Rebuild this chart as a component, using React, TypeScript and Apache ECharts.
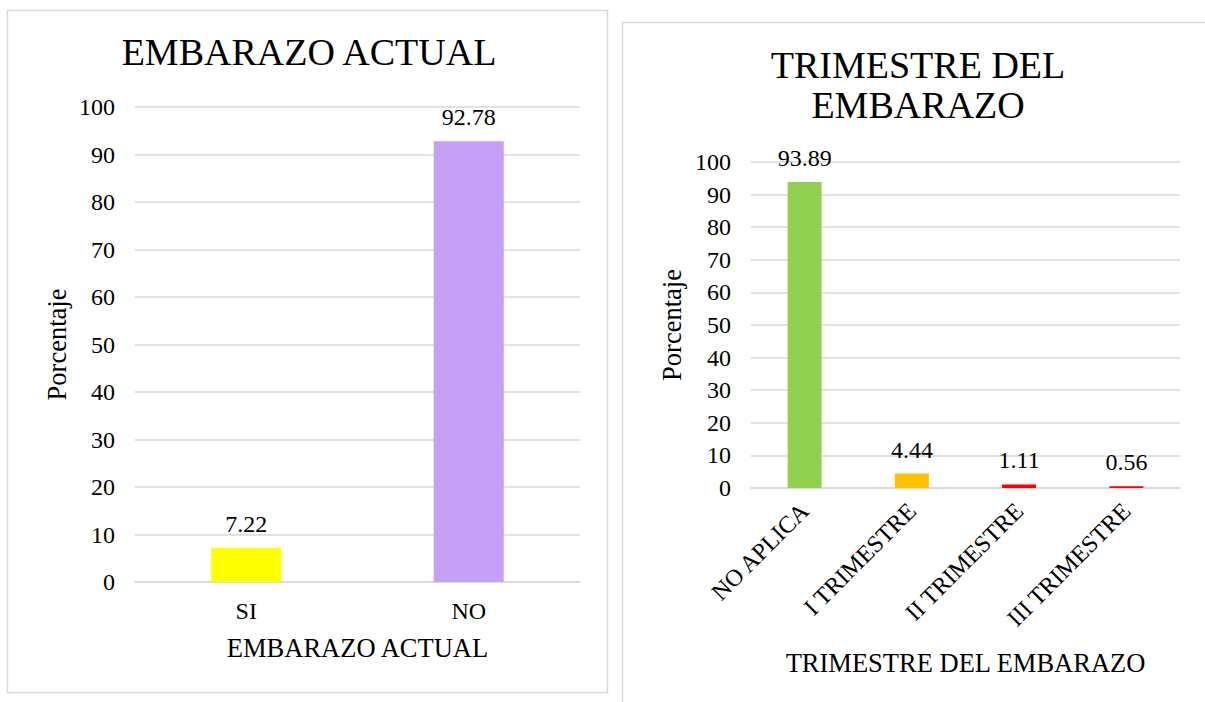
import React, { useEffect, useRef } from "react";
import * as echarts from "echarts";

const catsA = ["SI", "NO"];
const valsA = [7.22, 92.78];
const colorsA = ["#FFFF00", "#C5A0F6"];

const catsB = ["NO APLICA", "I TRIMESTRE", "II TRIMESTRE", "III TRIMESTRE"];
const valsB = [93.89, 4.44, 1.11, 0.56];
const colorsB = ["#92D050", "#FFC000", "#FF0000", "#FF0000"];

const FONT = "Liberation Serif";
const TXT = "#000000";
const GRID = "#D9D9D9";
const FS = 24;
const FN = 26.5;

export default function App() {
  const ref = useRef<HTMLDivElement>(null);
  useEffect(() => {
    if (!ref.current) return;
    const chart = echarts.init(ref.current, undefined, { renderer: "svg" });
    const yAxisBase = {
      type: "value",
      min: 0,
      max: 100,
      interval: 10,
      name: "Porcentaje",
      nameLocation: "middle",
      nameTextStyle: { fontFamily: FONT, fontSize: FN, color: TXT },
      axisLine: { show: false },
      axisTick: { show: false },
      axisLabel: { fontFamily: FONT, fontSize: FS, color: TXT, margin: 20 },
      splitLine: { lineStyle: { color: GRID, width: 1.5 } },
    };
    const labelBase = {
      show: true,
      position: "top",
      distance: 12,
      fontFamily: FONT,
      fontSize: FS,
      color: TXT,
      formatter: (p: any) => p.value.toFixed(2),
    };
    chart.setOption({
      animation: false,
      backgroundColor: "#ffffff",
      textStyle: { fontFamily: FONT },
      title: [
        {
          text: "EMBARAZO ACTUAL",
          left: 304,
          top: 28,
          textAlign: "center",
          textStyle: { fontFamily: FONT, fontSize: 38, fontWeight: "normal", color: TXT },
        },
        {
          text: "TRIMESTRE DEL\nEMBARAZO",
          left: 913,
          top: 40,
          textAlign: "center",
          textStyle: { fontFamily: FONT, fontSize: 38, fontWeight: "normal", color: TXT, lineHeight: 40 },
        },
      ],
      graphic: [
        {
          type: "rect",
          shape: { x: 7.5, y: 10.5, width: 600, height: 682 },
          style: { fill: "none", stroke: GRID, lineWidth: 1.5 },
          silent: true,
        },
        {
          type: "rect",
          shape: { x: 622.5, y: 22.5, width: 600, height: 700 },
          style: { fill: "none", stroke: GRID, lineWidth: 1.5 },
          silent: true,
        },
      ],
      grid: [
        { left: 135, right: 625, top: 107, bottom: 120 },
        { left: 751, right: 25, top: 162, bottom: 214 },
      ],
      xAxis: [
        {
          type: "category",
          gridIndex: 0,
          data: catsA,
          name: "EMBARAZO ACTUAL",
          nameLocation: "middle",
          nameGap: 52,
          nameTextStyle: { fontFamily: FONT, fontSize: FN, color: TXT },
          axisLine: { lineStyle: { color: GRID, width: 1.5 } },
          axisTick: { show: false },
          axisLabel: { fontFamily: FONT, fontSize: FS, color: TXT, margin: 17 },
        },
        {
          type: "category",
          gridIndex: 1,
          data: catsB,
          name: "TRIMESTRE DEL EMBARAZO",
          nameLocation: "middle",
          nameGap: 161,
          nameTextStyle: { fontFamily: FONT, fontSize: FN, color: TXT },
          axisLine: { lineStyle: { color: GRID, width: 1.5 } },
          axisTick: { show: false },
          axisLabel: { fontFamily: FONT, fontSize: FS, color: TXT, rotate: 45, margin: 19, interval: 0 },
        },
      ],
      yAxis: [
        { ...yAxisBase, gridIndex: 0, nameGap: 65 },
        { ...yAxisBase, gridIndex: 1, nameGap: 66 },
      ],
      series: [
        {
          type: "bar",
          xAxisIndex: 0,
          yAxisIndex: 0,
          barWidth: 70,
          data: valsA.map((v, i) => ({ value: v, itemStyle: { color: colorsA[i] } })),
          label: labelBase,
        },
        {
          type: "bar",
          xAxisIndex: 1,
          yAxisIndex: 1,
          barWidth: 34,
          data: valsB.map((v, i) => ({ value: v, itemStyle: { color: colorsB[i] } })),
          label: labelBase,
        },
      ],
    });
    return () => chart.dispose();
  }, []);
  return (
    <div
      ref={ref}
      style={{ position: "absolute", left: 0, top: 0, width: 1205, height: 702 }}
    />
  );
}
